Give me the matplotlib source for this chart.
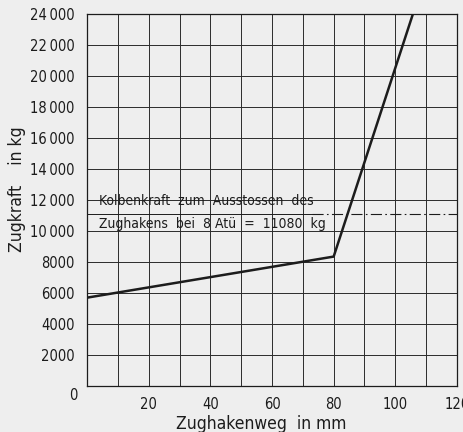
import matplotlib.pyplot as plt
import numpy as np

# Zugkraft curve
weg_mm = [0, 80, 105.7]
zugkraft_kg = [5700, 8350, 24000]

kolben_kg = 11080
x_grid = np.arange(0, 121, 10)
y_ticks = [2000, 4000, 6000, 8000, 10000, 12000, 14000, 16000, 18000, 20000, 22000, 24000]


def fmt(v):
    s = str(v)
    if len(s) > 4:
        s = s[:-3] + "\u2009" + s[-3:]
    return s


plt.rcParams['font.family'] = ['DejaVu Sans']
plt.rcParams['font.stretch'] = 'condensed'
paper = '#eeeeee'
ink = '#1c1c1c'

fig = plt.figure(figsize=(4.63, 4.32), dpi=100, facecolor=paper)
ax = fig.add_axes([0.188, 0.1065, 0.799, 0.861], facecolor=paper)

ax.set_xlim(0, 120)
ax.set_ylim(0, 24000)
ax.set_xticks(x_grid)
ax.set_yticks([0] + y_ticks)
ax.grid(True, color='#2a2a2a', lw=0.7)
ax.tick_params(length=0, colors=ink, labelsize=10.5)
ax.set_xticklabels(['' if (t % 20 or t == 0) else str(t) for t in x_grid])
ax.set_yticklabels([''] + [fmt(v) for v in y_ticks])
ax.tick_params(axis='x', pad=8)
ax.tick_params(axis='y', pad=9)
for s in ax.spines.values():
    s.set_color(ink)
    s.set_linewidth(0.9)

ax.text(-3, -150, '0', ha='right', va='top', fontsize=10.5, color=ink)

ax.plot(weg_mm, zugkraft_kg, color=ink, lw=1.8, solid_capstyle='butt')

ax.plot([0, 73], [kolben_kg, kolben_kg], color=ink, lw=0.7)
ax.plot([73, 120], [kolben_kg, kolben_kg], color=ink, lw=0.8,
        linestyle=(0, (10, 3, 1.5, 3)))

ax.text(3.8, 11950, 'Kolbenkraft  zum  Ausstossen  des', fontsize=10, color=ink,
        va='center', ha='left')
ax.text(3.8, 10450, 'Zughakens  bei  8 Atü  =  11080  kg', fontsize=10, color=ink,
        va='center', ha='left')

ax.set_xlabel('Zughakenweg  in mm', fontsize=12.5, color=ink)
ax.xaxis.set_label_coords(0.47, -0.077)
ax.set_ylabel('Zugkraft    in kg', fontsize=12.5, color=ink)
ax.yaxis.set_label_coords(-0.165, 0.53)

fig.savefig('out.png', dpi=100, facecolor=paper)
